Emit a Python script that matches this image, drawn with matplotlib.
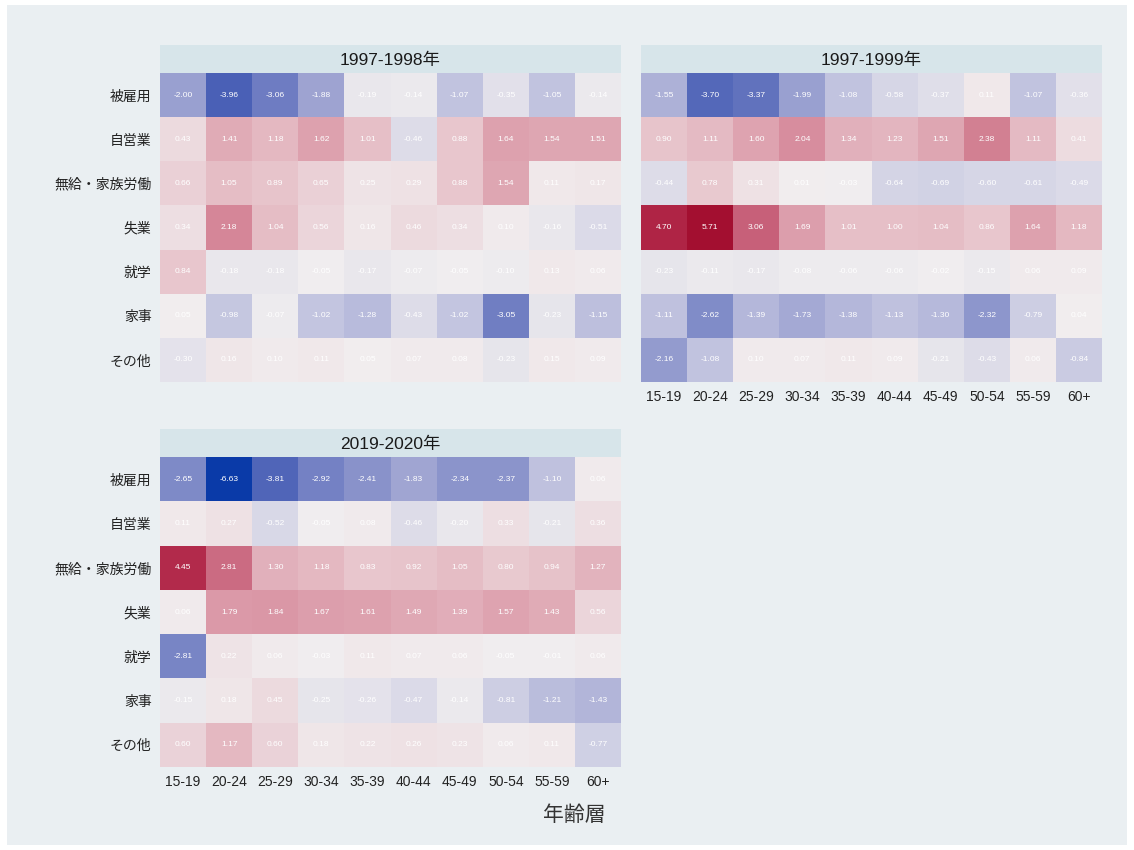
import numpy as np
import matplotlib
matplotlib.use("Agg")
import matplotlib.pyplot as plt
from matplotlib.colors import LinearSegmentedColormap, Normalize
from matplotlib.patches import Rectangle

plt.rcParams['font.family'] = ['Liberation Sans', 'Noto Sans CJK JP']

# Data
ages = ['15-19', '20-24', '25-29', '30-34', '35-39', '40-44', '45-49', '50-54', '55-59', '60+']
statuses = ['被雇用', '自営業', '無給・家族労働', '失業', '就学', '家事', 'その他']
titles = ['1997-1998年', '1997-1999年', '2019-2020年']

v_1997_1998 = [
    [-2.00, -3.96, -3.06, -1.88, -0.19, -0.14, -1.07, -0.35, -1.05, -0.14],
    [0.43, 1.41, 1.18, 1.62, 1.01, -0.46, 0.88, 1.64, 1.54, 1.51],
    [0.66, 1.05, 0.89, 0.65, 0.25, 0.29, 0.88, 1.54, 0.11, 0.17],
    [0.34, 2.18, 1.04, 0.56, 0.16, 0.46, 0.34, 0.10, -0.16, -0.51],
    [0.84, -0.18, -0.18, -0.05, -0.17, -0.07, -0.05, -0.10, 0.13, 0.06],
    [0.05, -0.98, -0.07, -1.02, -1.28, -0.43, -1.02, -3.05, -0.23, -1.15],
    [-0.30, 0.16, 0.10, 0.11, 0.05, 0.07, 0.08, -0.23, 0.15, 0.09],
]
v_1997_1999 = [
    [-1.55, -3.70, -3.37, -1.99, -1.08, -0.58, -0.37, 0.11, -1.07, -0.36],
    [0.90, 1.11, 1.60, 2.04, 1.34, 1.23, 1.51, 2.38, 1.11, 0.41],
    [-0.44, 0.78, 0.31, 0.01, -0.03, -0.64, -0.69, -0.60, -0.61, -0.49],
    [4.70, 5.71, 3.06, 1.69, 1.01, 1.00, 1.04, 0.86, 1.64, 1.18],
    [-0.23, -0.11, -0.17, -0.08, -0.06, -0.06, -0.02, -0.15, 0.06, 0.09],
    [-1.11, -2.62, -1.39, -1.73, -1.38, -1.13, -1.30, -2.32, -0.79, 0.04],
    [-2.16, -1.08, 0.10, 0.07, 0.11, 0.09, -0.21, -0.43, 0.06, -0.84],
]
v_2019_2020 = [
    [-2.65, -6.63, -3.81, -2.92, -2.41, -1.83, -2.34, -2.37, -1.10, 0.06],
    [0.11, 0.27, -0.52, -0.05, 0.08, -0.46, -0.20, 0.33, -0.21, 0.36],
    [4.45, 2.81, 1.30, 1.18, 0.83, 0.92, 1.05, 0.80, 0.94, 1.27],
    [0.06, 1.79, 1.84, 1.67, 1.61, 1.49, 1.39, 1.57, 1.43, 0.56],
    [-2.81, 0.22, 0.06, -0.03, 0.11, 0.07, 0.06, -0.05, -0.01, 0.06],
    [-0.15, 0.18, 0.45, -0.25, -0.26, -0.47, -0.14, -0.81, -1.21, -1.43],
    [0.60, 1.17, 0.60, 0.18, 0.22, 0.26, 0.23, 0.06, 0.11, -0.77],
]
panels = [np.array(v_1997_1998), np.array(v_1997_1999), np.array(v_2019_2020)]

# Diverging colour scale centred at 0
lim = max(np.abs(p).max() for p in panels)
stops = [(-1.0, '#0a3aa8'), (-0.6, '#4a60b6'), (-0.3, '#9aa0d0'), (-0.15, '#c4c6e0'),
         (0.0, '#f1eeef'), (0.15, '#e6c0c8'), (0.3, '#d890a0'), (0.46, '#c8627a'),
         (0.67, '#b22a4b'), (0.86, '#a30f30'), (1.0, '#9a0a2a')]
cmap = LinearSegmentedColormap.from_list('div', [((t + 1) / 2, c) for t, c in stops])
norm = Normalize(-lim, lim)

W, H = 1134, 850
fig = plt.figure(figsize=(W / 100, H / 100), dpi=100, facecolor='white')
bg = '#eaeff2'
fig.patches.append(Rectangle((7 / W, 5 / H), 1120 / W, 840 / H, transform=fig.transFigure,
                             facecolor=bg, edgecolor='none', zorder=-10))

def px_rect(x0, y0, x1, y1):
    return [x0 / W, 1 - y1 / H, (x1 - x0) / W, (y1 - y0) / H]

# (left, top, right, bottom) of cell area in pixels
boxes = [(160, 73, 621, 382), (641, 73, 1102, 382), (160, 457, 621, 767)]

for k, (vals, title, (x0, y0, x1, y1)) in enumerate(zip(panels, titles, boxes)):
    ax = fig.add_axes(px_rect(x0, y0, x1, y1))
    ax.set_facecolor(bg)
    ax.pcolormesh(np.arange(len(ages) + 1), np.arange(len(statuses) + 1), vals,
                  cmap=cmap, norm=norm, edgecolors='none')
    ax.set_xlim(0, len(ages))
    ax.set_ylim(len(statuses), 0)
    for i in range(len(statuses)):
        for j in range(len(ages)):
            ax.text(j + 0.5, i + 0.5, f'{vals[i, j]:.2f}', ha='center', va='center',
                    color='white', fontsize=6)
    for s in ax.spines.values():
        s.set_visible(False)
    ax.tick_params(length=0, labelsize=10, colors='#222222', pad=6)
    ax.set_xticks(np.arange(len(ages)) + 0.5)
    ax.set_yticks(np.arange(len(statuses)) + 0.5)
    if k in (1, 2):
        ax.set_xticklabels(ages)
    else:
        ax.set_xticklabels([])
    if k in (0, 2):
        ax.set_yticklabels(statuses)
    else:
        ax.set_yticklabels([])

    # facet strip
    sax = fig.add_axes(px_rect(x0, y0 - 28, x1, y0))
    sax.set_facecolor('#d7e5ea')
    sax.set_xticks([])
    sax.set_yticks([])
    for s in sax.spines.values():
        s.set_visible(False)
    sax.text(0.5, 0.45, title, ha='center', va='center', fontsize=12.5,
             color='#1a1a1a', transform=sax.transAxes)

fig.text(574 / W, 1 - 815 / H, '年齢層', ha='center', va='center', fontsize=15, color='#333333')

fig.savefig('out.png', dpi=100, facecolor=fig.get_facecolor())
